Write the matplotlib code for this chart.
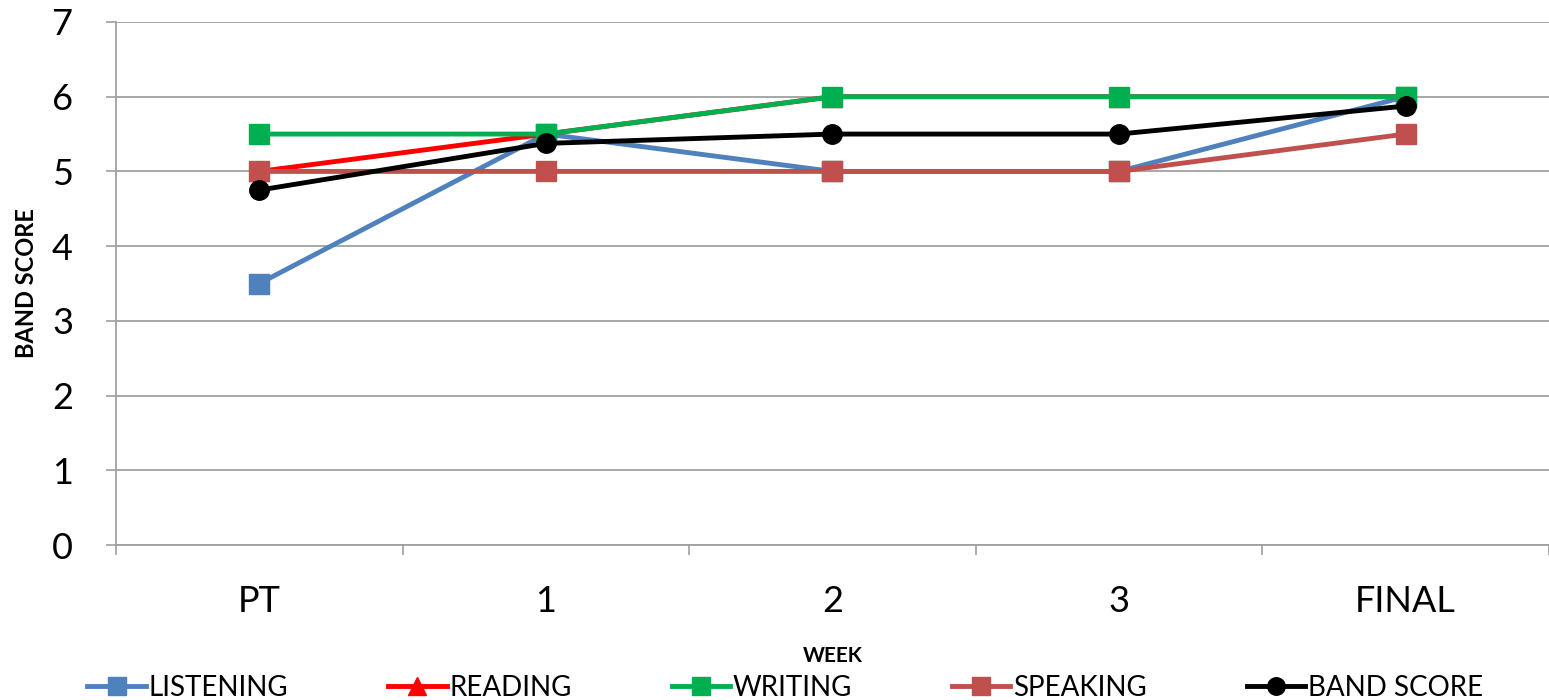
import matplotlib.pyplot as plt

weeks = ["PT", "1", "2", "3", "FINAL"]
listening = [3.5, 5.5, 5.0, 5.0, 6.0]
reading = [5.0, 5.5, 6.0, 6.0, 6.0]
writing = [5.5, 5.5, 6.0, 6.0, 6.0]
speaking = [5.0, 5.0, 5.0, 5.0, 5.5]
band_score = [4.75, 5.375, 5.5, 5.5, 5.875]

plt.rcParams['font.family'] = ['Lato', 'DejaVu Sans']

fig = plt.figure(figsize=(15.49, 7), dpi=100)
ax = fig.add_axes([0.0749, 0.2214, 0.925, 0.7472])

x = list(range(len(weeks)))
# series in drawing order, band score on top
series = [
    ("LISTENING", listening, "#4F81BD", "s"),
    ("READING", reading, "#FF0000", "^"),
    ("WRITING", writing, "#00B050", "s"),
    ("SPEAKING", speaking, "#C0504D", "s"),
    ("BAND SCORE", band_score, "#000000", "o"),
]
for name, vals, col, mk in series:
    ax.plot(x, vals, color=col, marker=mk, markersize=14, linewidth=3.5,
            label=name)

ax.set_xlim(-0.5, 4.5)
ax.set_ylim(0, 7)
ax.set_yticks(range(0, 8))
ax.set_xticks(x)
ax.set_xticklabels(weeks)
ax.set_xticks([i - 0.5 for i in range(len(weeks) + 1)], minor=True)
ax.tick_params(axis='x', which='major', length=0, pad=29, labelsize=26)
ax.tick_params(axis='x', which='minor', length=7, color='#a0a0a0', width=1.2)
ax.tick_params(axis='y', length=7, color='#a0a0a0', width=1.2, labelsize=26, pad=24)
ax.grid(axis='y', color='#a0a0a0', linewidth=1.3)
ax.set_axisbelow(True)
for side in ['top', 'right']:
    ax.spines[side].set_visible(False)
for side in ['left', 'bottom']:
    ax.spines[side].set_color('#a0a0a0')
    ax.spines[side].set_linewidth(1.3)

ax.set_ylabel("BAND SCORE", fontsize=17, fontweight='bold', labelpad=10)
ax.set_xlabel("WEEK", fontsize=15, fontweight='bold', labelpad=20)

fig.legend(loc='lower center', bbox_to_anchor=(0.507, -0.037), ncol=5,
           frameon=False, fontsize=20, handlelength=2.1, handletextpad=0.1,
           columnspacing=3.6, markerscale=0.9)

fig.savefig("out.png", dpi=100)
